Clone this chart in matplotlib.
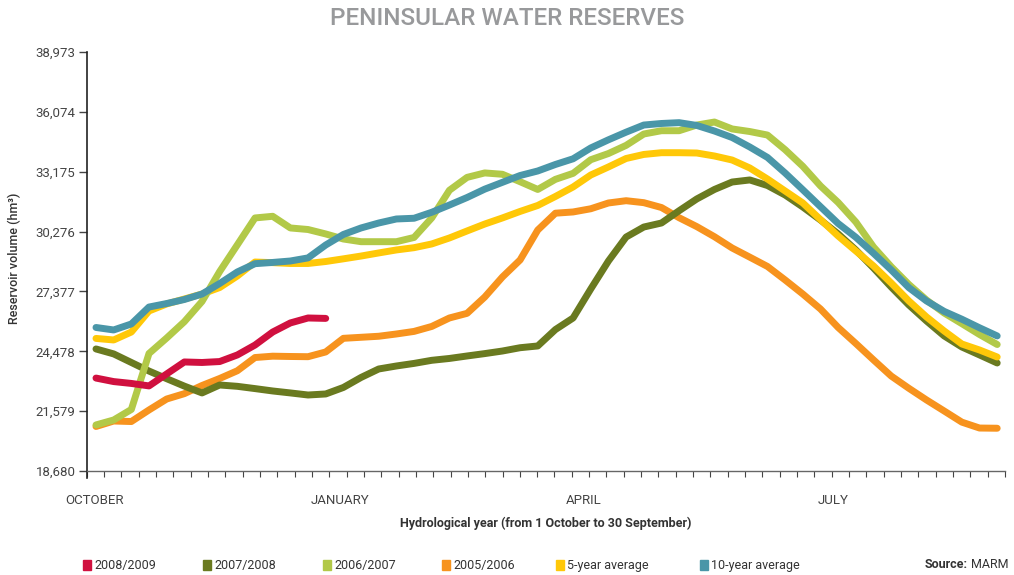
import numpy as np
import matplotlib
matplotlib.use('Agg')
import matplotlib.pyplot as plt
from matplotlib.patches import Rectangle

plt.rcParams['font.family'] = ['Roboto', 'DejaVu Sans']

# weekly reservoir volume (hm3), one value per week of the hydrological year
y2008_2009 = [23180, 23010, 22920, 22800, 23380, 23960, 23935, 23980, 24300, 24780,
              25410, 25850, 26090, 26070]
y2007_2008 = [24590, 24350, 23935, 23520, 23150, 22790, 22460, 22845, 22780, 22670,
              22555, 22460, 22360, 22410, 22725, 23210, 23620, 23765, 23890, 24040,
              24130, 24250, 24365, 24490, 24650, 24735, 25530, 26090, 27495, 28850,
              30010, 30495, 30690, 31285, 31855, 32315, 32675, 32775, 32505, 32045,
              31465, 30835, 30160, 29385, 28510, 27590, 26720, 25945, 25220, 24685,
              24300, 23910]
y2006_2007 = [20910, 21150, 21660, 24370, 25120, 25910, 26890, 28340, 29635, 30935,
              31015, 30450, 30375, 30160, 29915, 29785, 29785, 29785, 29990, 30935,
              32275, 32900, 33115, 33050, 32690, 32315, 32805, 33095, 33755, 34055,
              34450, 35000, 35160, 35160, 35435, 35580, 35245, 35120, 34950, 34240,
              33435, 32485, 31685, 30740, 29530, 28575, 27715, 26960, 26330, 25815,
              25290, 24805]
y2005_2006 = [20835, 21100, 21075, 21635, 22165, 22425, 22820, 23160, 23535, 24175,
              24240, 24225, 24215, 24445, 25105, 25155, 25205, 25315, 25440, 25680,
              26090, 26315, 27105, 28075, 28900, 30350, 31165, 31225, 31380, 31660,
              31770, 31675, 31440, 30945, 30515, 30025, 29480, 29035, 28585, 27930,
              27250, 26525, 25630, 24855, 24060, 23280, 22685, 22120, 21585, 21045,
              20760, 20750]
avg5 = [25100, 25025, 25410, 26430, 26770, 27010, 27250, 27565, 28125, 28800,
        28770, 28730, 28730, 28825, 28955, 29090, 29240, 29385, 29495, 29675,
        29965, 30305, 30640, 30935, 31250, 31540, 31975, 32435, 33015, 33405,
        33815, 34010, 34095, 34095, 34080, 33935, 33740, 33355, 32820, 32240,
        31660, 30855, 30060, 29335, 28610, 27785, 26915, 26140, 25460, 24830,
        24540, 24200]
avg10 = [25630, 25510, 25800, 26620, 26790, 26985, 27250, 27760, 28320, 28720,
         28780, 28850, 29000, 29625, 30135, 30450, 30690, 30885, 30920, 31210,
         31560, 31925, 32330, 32660, 32990, 33210, 33525, 33800, 34325, 34720,
         35090, 35435, 35510, 35550, 35415, 35145, 34830, 34370, 33865, 33110,
         32300, 31480, 30665, 30000, 29225, 28420, 27560, 26915, 26410, 26030,
         25615, 25220]

y_ticks = [18680, 21579, 24478, 27377, 30276, 33175, 36074, 38973]
months = ['OCTOBER', 'JANUARY', 'APRIL', 'JULY']
month_pos = [-0.11, 13.8, 27.6, 41.7]

labels = ['2008/2009', '2007/2008', '2006/2007', '2005/2006', '5-year average', '10-year average']
colors = ['#D0103F', '#6A7A20', '#B2C948', '#F7931E', '#FFC808', '#4A96A8']
series = [y2008_2009, y2007_2008, y2006_2007, y2005_2006, avg5, avg10]
zorders = [7, 3, 5, 2, 4, 6]

fig = plt.figure(figsize=(10.14, 5.75), dpi=100)
ax = fig.add_axes([0.0855, 0.1809, 0.9056, 0.7287])

for vals, c, z in zip(series, colors, zorders):
    w = np.arange(len(vals))
    ax.plot(w, vals, color=c, lw=5, solid_capstyle='round', solid_joinstyle='round', zorder=z)

xmin, xmax = -0.526, 51.44
ax.set_xlim(xmin, xmax)
ax.set_ylim(18680, 38973)
ax.set_xticks(np.linspace(xmin, xmax, 54))
ax.set_xticklabels([])
ax.set_yticks(y_ticks)
ax.set_yticklabels([f'{v:,}' for v in y_ticks])

for s in ['top', 'right']:
    ax.spines[s].set_visible(False)
ax.spines['left'].set_color('#222222')
ax.spines['left'].set_linewidth(1.2)
ax.spines['left'].set_bounds(18680 - 7 * 48.4, 38973)
ax.spines['bottom'].set_color('#666666')
ax.spines['bottom'].set_linewidth(1.0)
ax.tick_params(axis='y', length=6, width=1.0, color='#444444', labelsize=9.5,
               labelcolor='#444444', pad=2)
ax.tick_params(axis='x', length=4, width=0.8, color='#444444')

for m, p in zip(months, month_pos):
    ax.text(p, -0.0716, m, transform=ax.get_xaxis_transform(), ha='center', va='center',
            fontsize=9.5, color='#444444')

fig.text(0.5, 0.968, 'PENINSULAR WATER RESERVES', ha='center', va='center',
         fontsize=17.5, fontweight='medium', color='#98999b')
fig.text(0.538, 0.0904, 'Hydrological year (from 1 October to 30 September)', ha='center',
         va='center', fontsize=9, fontweight='bold', color='#333333')
fig.text(0.0138, 0.55, 'Reservoir volume (hm³)', rotation=90, ha='center', va='center',
         fontsize=9, fontweight='medium', color='#333333')

# legend along the bottom
leg_x = [83, 203, 323, 442, 556, 700]
for x0, lab, c in zip(leg_x, labels, colors):
    fig.patches.append(Rectangle((x0 / 1014, (575 - 570) / 575), 8 / 1014, 10 / 575,
                                 transform=fig.transFigure, color=c))
    fig.text((x0 + 11) / 1014, 1 - 565 / 575, lab, ha='left', va='center',
             fontsize=9, color='#333333')
fig.text(968 / 1014, 1 - 565 / 575, 'Source:', ha='right', va='center', fontsize=9,
         fontweight='bold', color='#333333')
fig.text(1008 / 1014, 1 - 565 / 575, 'MARM', ha='right', va='center', fontsize=9,
         color='#333333')

fig.savefig('out.png', dpi=100)
